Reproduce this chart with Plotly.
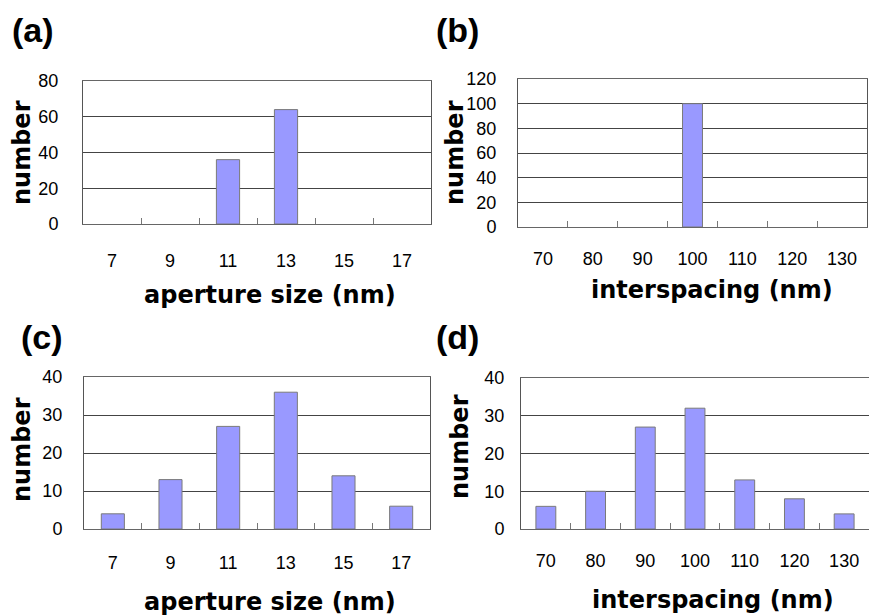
import plotly.graph_objects as go

W, H = 869, 616

# ---- data ----
aperture_cats = ["7", "9", "11", "13", "15", "17"]
spacing_cats = ["70", "80", "90", "100", "110", "120", "130"]
a_values = [0, 0, 36, 64, 0, 0]
b_values = [0, 0, 0, 100, 0, 0, 0]
c_values = [4, 13, 27, 36, 14, 6]
d_values = [6, 10, 27, 32, 13, 8, 4]

panel_labels = ["(a)", "(b)", "(c)", "(d)"]
x_title_aperture = "aperture size (nm)"
x_title_spacing = "interspacing (nm)"
y_title = "number"

# ---- geometry (pixels) ----
panels = [
    # key, cats, values, x0, x1, y0, y1, ymax, dtick, xstand, ystand
    ("", aperture_cats, a_values, 83, 431, 81, 224, 80, 20, 20, 20),
    ("2", spacing_cats, b_values, 518, 867, 79, 227, 120, 20, 15, 17),
    ("3", aperture_cats, c_values, 84, 430, 377, 529, 40, 10, 17, 17),
    ("4", spacing_cats, d_values, 521, 869, 378, 529, 40, 10, 15, 12),
]

fig = go.Figure()
layout = dict(
    width=W, height=H,
    margin=dict(l=0, r=0, t=0, b=0, autoexpand=False),
    paper_bgcolor="white", plot_bgcolor="white",
    showlegend=False,
    font=dict(family="Liberation Sans, Arial, sans-serif", size=18, color="black"),
)

for key, cats, vals, x0, x1, y0, y1, ymax, dtick, xst, yst in panels:
    fig.add_trace(go.Bar(
        x=cats, y=vals,
        xaxis="x" + key, yaxis="y" + key,
        marker=dict(color="#9999FF",
                    line=dict(color="#7a7a7a", width=[1 if v > 0 else 0 for v in vals])),
        width=0.4,
    ))
    layout["xaxis" + key] = dict(
        domain=[x0 / W, x1 / W], anchor="y" + key,
        type="category", range=[-0.5, len(cats) - 0.5],
        showline=True, linecolor="#666666", linewidth=1, mirror=True,
        showgrid=False, ticks="inside", tickson="boundaries",
        ticklen=6, tickcolor="#777777", ticklabelstandoff=xst,
        tickfont=dict(size=18), fixedrange=True, automargin=False,
    )
    layout["yaxis" + key] = dict(
        domain=[1 - y1 / H, 1 - y0 / H], anchor="x" + key,
        range=[0, ymax], dtick=dtick, tick0=0,
        showline=True, linecolor="#555555", linewidth=1, mirror=True,
        showgrid=True, gridcolor="#444444", gridwidth=1,
        zeroline=False, ticks="", ticklabelstandoff=yst,
        tickfont=dict(size=18), fixedrange=True, automargin=False,
    )

fig.update_layout(**layout)

def ann(text, px, py, size, angle=0, xanchor="center", yanchor="middle"):
    fig.add_annotation(
        text=text, x=px / W, y=1 - py / H, xref="paper", yref="paper",
        showarrow=False, textangle=angle, xanchor=xanchor, yanchor=yanchor,
        font=dict(family="DejaVu Sans, sans-serif", size=size, color="black"),
    )

def lab(text, px, py):
    fig.add_annotation(
        text="<b>" + text + "</b>", x=px / W, y=1 - py / H, xref="paper", yref="paper",
        showarrow=False, xanchor="left", yanchor="middle",
        font=dict(family="Liberation Sans, Arial, sans-serif", size=34, color="black"),
    )

lab(panel_labels[0], 10, 30)
lab(panel_labels[1], 434, 30)
lab(panel_labels[2], 19, 337)
lab(panel_labels[3], 434, 337)

ann("<b>" + x_title_aperture + "</b>", 270, 295, 24)
ann("<b>" + x_title_spacing + "</b>", 712, 290, 24)
ann("<b>" + x_title_aperture + "</b>", 270, 602, 24)
ann("<b>" + x_title_spacing + "</b>", 713, 600, 24)

ann("<b>" + y_title + "</b>", 22, 153, 24, angle=-90)
ann("<b>" + y_title + "</b>", 455, 153, 24, angle=-90)
ann("<b>" + y_title + "</b>", 22, 450, 24, angle=-90)
ann("<b>" + y_title + "</b>", 460, 447, 24, angle=-90)

fig.write_html("out.html", config={"displayModeBar": False},
               post_script="document.body.style.margin='0';")
